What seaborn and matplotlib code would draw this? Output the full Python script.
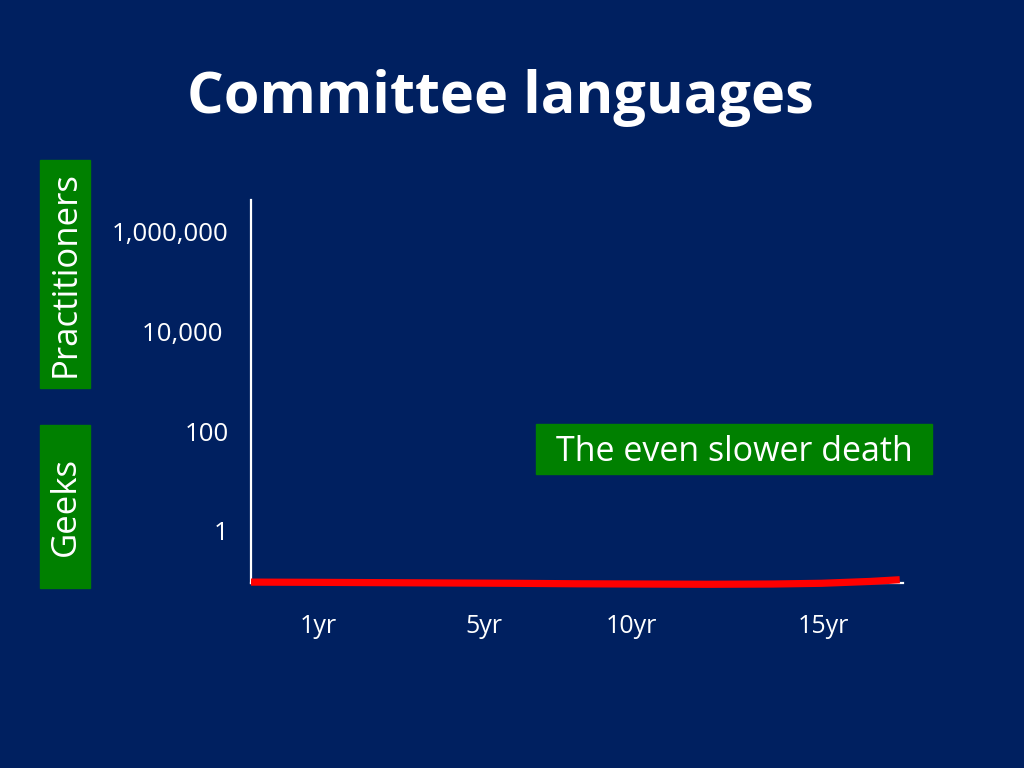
import numpy as np
import pandas as pd
import seaborn as sns
import matplotlib.pyplot as plt
from matplotlib.patches import Rectangle

# values
years = [0, 2, 5, 8, 10, 12, 14, 16, 17.5, 19, 19.9]
practitioners = [0.095, 0.094, 0.092, 0.090, 0.088, 0.087, 0.086, 0.087, 0.090, 0.098, 0.106]
y_ticks = [1, 100, 10000, 1000000]
y_labels = ["1", "100", "10,000 ", "1,000,000"]
x_ticks = [2.05, 7.15, 11.66, 17.55]
x_labels = ["1yr", "5yr", "10yr", "15yr"]

bg = "#002060"
green = "#008000"

sns.set_theme(style="white")
plt.rcParams["font.family"] = ["Open Sans", "DejaVu Sans"]

fig = plt.figure(figsize=(10.24, 7.68), dpi=100, facecolor=bg)

ax = fig.add_axes([251 / 1024, 1 - 583 / 768, (903 - 251) / 1024, (583 - 200) / 768])
ax.patch.set_alpha(0)

df = pd.DataFrame({"year": years, "people": practitioners})
sns.lineplot(data=df, x="year", y="people", ax=ax, color="#ff0000", linewidth=5.2,
             solid_capstyle="butt", zorder=3, clip_on=False)

ax.set_yscale("log")
ax.set_ylim(10 ** -1.04, 10 ** 6.62)
ax.set_xlim(0, 20)
ax.set_yticks(y_ticks)
ax.set_yticklabels(y_labels)
ax.set_xticks(x_ticks)
ax.set_xticklabels(x_labels)
ax.minorticks_off()
ax.tick_params(axis="y", length=0, pad=16, labelsize=18.6, labelcolor="white")
ax.tick_params(axis="x", length=0, pad=22, labelsize=18, labelcolor="white")
ax.set_xlabel("")
ax.set_ylabel("")
for side in ["top", "right"]:
    ax.spines[side].set_visible(False)
for side in ["left", "bottom"]:
    ax.spines[side].set_color("white")
    ax.spines[side].set_linewidth(1.6)
    ax.spines[side].set_zorder(2)

# overlay in pixel coords for the green label boxes
deco = fig.add_axes([0, 0, 1, 1])
deco.set_xlim(0, 1024)
deco.set_ylim(768, 0)
deco.axis("off")
deco.patch.set_alpha(0)
deco.set_zorder(5)

# title
deco.text(500, 98, "Committee languages", color="white",
          fontsize=41.5, fontweight="bold", ha="center", va="center")

# side labels
deco.add_patch(Rectangle((40, 160), 50, 228, color=green))
deco.text(66, 274, "Practitioners", rotation=90, color="white", fontsize=25,
          ha="center", va="center")
deco.add_patch(Rectangle((40, 425), 50, 163, color=green))
deco.text(66, 506, "Geeks", rotation=90, color="white", fontsize=25,
          ha="center", va="center")

# annotation box
deco.add_patch(Rectangle((536, 424), 396, 50, color=green))
deco.text(734, 452, "The even slower death", color="white", fontsize=24.5,
          ha="center", va="center")

fig.savefig("out.png", dpi=100, facecolor=bg)
